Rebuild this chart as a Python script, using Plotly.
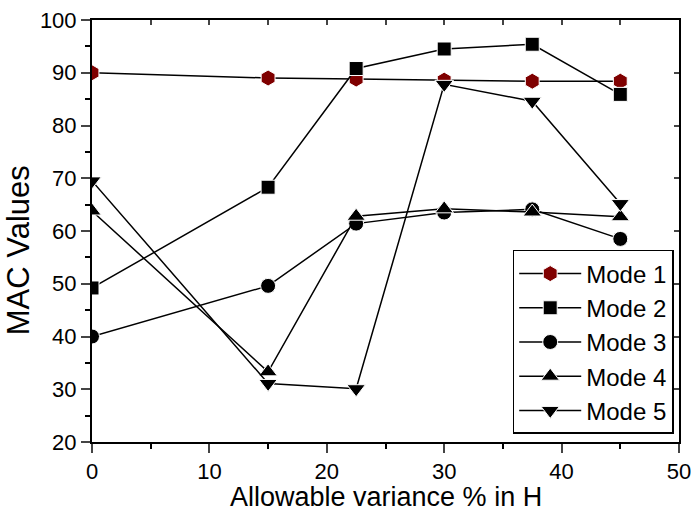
import plotly.graph_objects as go

x_vals = [0, 15, 22.5, 30, 37.5, 45]
mode1 = [90.0, 89.0, 88.8, 88.6, 88.4, 88.4]
mode2 = [49.2, 68.3, 90.8, 94.5, 95.4, 85.9]
mode3 = [40.0, 49.6, 61.4, 63.5, 64.1, 58.5]
mode4 = [63.8, 33.3, 62.8, 64.2, 63.6, 62.7]
mode5 = [69.5, 31.1, 30.1, 87.8, 84.6, 65.2]
names = ["Mode 1", "Mode 2", "Mode 3", "Mode 4", "Mode 5"]
x_title = "Allowable variance % in H"
y_title = "MAC Values"

series = [mode1, mode2, mode3, mode4, mode5]
symbols = ["hexagon", "square", "circle", "triangle-up", "triangle-down"]
colors = ["#7F0000", "black", "black", "black", "black"]
sizes = [16, 14, 15, 16, 16]

fig = go.Figure()
for name, ys, sym, col, sz in zip(names, series, symbols, colors, sizes):
    fig.add_trace(go.Scatter(
        x=x_vals, y=ys, name=name, mode="lines+markers",
        line=dict(color="black", width=1.5),
        marker=dict(symbol=sym, size=sz, color=col, line=dict(color="white", width=1)),
    ))

font_family = "Liberation Sans, Arial, sans-serif"
axis_common = dict(showline=True, linecolor="black", linewidth=2, showgrid=False,
                   zeroline=False, automargin=False)
fig.update_layout(
    width=695, height=513,
    margin=dict(l=92, r=16, t=20, b=71),
    paper_bgcolor="white", plot_bgcolor="white",
    font=dict(family=font_family, color="black", size=22),
    showlegend=True,
    legend=dict(
        x=0.991, xanchor="right", y=0.237, yanchor="middle",
        bordercolor="black", borderwidth=1.5, bgcolor="white",
        font=dict(size=24), tracegroupgap=0, itemwidth=62,
    ),
    xaxis=dict(
        range=[0, 50], dtick=10, tick0=0, ticks="outside", ticklen=9, tickwidth=1.5,
        minor=dict(dtick=5, ticks="outside", ticklen=5, tickwidth=1.5, tickcolor="black"),
        tickfont=dict(size=22),
        **axis_common,
    ),
    yaxis=dict(
        range=[20, 100], dtick=10, tick0=0, ticks="outside", ticklen=9, tickwidth=1.5,
        minor=dict(dtick=5, ticks="outside", ticklen=5, tickwidth=1.5, tickcolor="black"),
        tickfont=dict(size=22),
        **axis_common,
    ),
    xaxis2=dict(
        overlaying="x", side="top", matches="x", range=[0, 50], dtick=5, tick0=0,
        ticks="inside", ticklen=5, tickwidth=1.5, showticklabels=False,
        **axis_common,
    ),
    yaxis2=dict(
        overlaying="y", side="right", matches="y", range=[20, 100], dtick=10, tick0=0,
        ticks="inside", ticklen=5, tickwidth=1.5, showticklabels=False,
        **axis_common,
    ),
    annotations=[
        dict(text=x_title, xref="paper", yref="paper", x=0.5, y=-0.0936,
             xanchor="center", yanchor="top", showarrow=False, borderpad=0,
             font=dict(size=27)),
        dict(text=y_title, xref="paper", yref="paper", x=-0.124, y=0.455,
             xanchor="center", yanchor="middle", showarrow=False, textangle=-90,
             font=dict(size=31)),
    ],
)
# invisible trace to activate the mirrored axes
fig.add_trace(go.Scatter(x=[None], y=[None], xaxis="x2", yaxis="y2",
                         showlegend=False, hoverinfo="skip"))

fig.write_html("out.html")
